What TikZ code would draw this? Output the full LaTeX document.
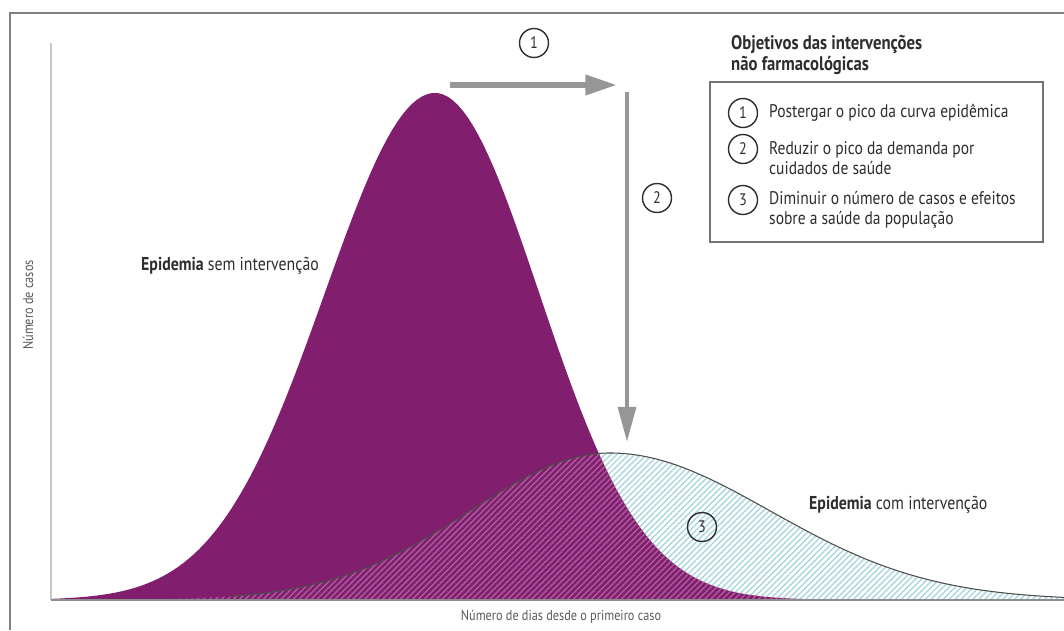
\documentclass[tikz,border=0pt]{standalone}
\usepackage{fontspec}
\setmainfont{PT Sans}[FakeStretch=0.85]
\usetikzlibrary{arrows.meta,patterns.meta}
\definecolor{epipurple}{RGB}{130,30,110}
\definecolor{hatchpurple}{RGB}{170,92,156}
\definecolor{hatchcyan}{RGB}{168,214,222}
\definecolor{arrowgray}{RGB}{150,150,150}
\definecolor{textgray}{RGB}{45,45,45}
\tikzset{
  declare function={
    semsig(\x)=ifthenelse(\x<435,110,104);
    semu(\x)=(\x-435)/semsig(\x);
    sem(\x)=600-507*exp(-0.5*semu(\x)*semu(\x));
    comsig(\x)=ifthenelse(\x<610,140,160);
    comu(\x)=(\x-610)/comsig(\x);
    com(\x)=600-147*exp(-0.5*comu(\x)*comu(\x));
  }
}

\begin{document}
\begin{tikzpicture}[x=0.02cm, y=-0.02cm,
    frameline/.style={draw=gray, line width=1.5pt},
    axisline/.style={draw=black!22, line width=1.3pt},
    hatch/.style={pattern={Lines[angle=45,distance=2.4pt,line width=0.8pt]}},
    numcircle/.style={circle, draw=textgray, line width=0.8pt, minimum size=0.58cm, inner sep=0pt, text=textgray, font=\fontsize{9.5}{10}\selectfont},
    bigarrow/.style={draw=arrowgray, line width=3.4pt, -{Triangle[length=18pt,width=11pt]}},
    downarrow/.style={draw=arrowgray, line width=2.6pt, -{Triangle[length=20pt,width=10pt]}},
    curvelabel/.style={anchor=west, text=textgray, font=\fontsize{10.6}{12}\selectfont},
    axislabel/.style={text=black!65, font=\fontsize{8.2}{9}\selectfont},
    itemtext/.style={anchor=west, align=left, text=textgray, font=\fontsize{10.4}{11.6}\selectfont}]
  \useasboundingbox (0,0) rectangle (1064,630);
  % frame:
  \draw[frameline] (10,630) -- (10,13) -- (1064,13);
  % epidemia com intervencao, hatched:
  \fill[hatch, pattern color=hatchcyan] (51,600) -- plot[domain=51:1064, samples=160] (\x,{com(\x)}) -- (1064,600) -- cycle;
  % epidemia sem intervencao:
  \fill[epipurple] (51,600) -- plot[domain=51:1064, samples=200] (\x,{sem(\x)}) -- (1064,600) -- cycle;
  \begin{scope}
    \clip (51,600) -- plot[domain=51:1064, samples=200] (\x,{sem(\x)}) -- (1064,600) -- cycle;
    \fill[hatch, pattern color=hatchpurple] (51,600) -- plot[domain=51:1064, samples=160] (\x,{com(\x)}) -- (1064,600) -- cycle;
  \end{scope}
  \draw[black!70, line width=0.6pt] plot[domain=230:1064, samples=160] (\x,{com(\x)});
  % axes:
  \draw[axisline] (51,43) -- (51,600);
  \draw[draw=black!45, line width=1pt] (51,600) -- (1064,600);
  \node[axislabel, rotate=90] (ylab) at (28,305) {Número de casos};
  \node[axislabel] (xlab) at (561,617) {Número de dias desde o primeiro caso};
  % curve labels:
  \node[curvelabel] (semlab) at (135,266) {\textbf{Epidemia} sem intervenção};
  \node[curvelabel] (comlab) at (803,505) {\textbf{Epidemia} com intervenção};
  % arrows 1 and 2:
  \coordinate (h1) at (450,85);
  \coordinate (h2) at (617,85);
  \coordinate (v1) at (627,92);
  \coordinate (v2) at (627,442);
  \draw[bigarrow] (h1) -- (h2);
  \draw[downarrow] (v1) -- (v2);
  \node[numcircle] (c1) at (534,43) {1};
  \node[numcircle] (c2) at (657,198) {2};
  \node[numcircle] (c3) at (702,527) {3};
  % legend:
  \node[anchor=west, align=left, text=textgray, font=\bfseries\fontsize{11.2}{9.8}\selectfont] (title) at (725,55) {Objetivos das intervenções\\não farmacológicas};
  \node[draw=black!55, line width=1pt, minimum width=6.66cm, minimum height=3.2cm] (legend) at (876.5,162) {};
  \node[numcircle] (l1) at (743,113) {1};
  \node[numcircle] (l2) at (743,149) {2};
  \node[numcircle] (l3) at (743,200) {3};
  \node[itemtext] (t1) at (763,113) {Postergar o pico da curva epidêmica};
  \node[itemtext] (t2) at (763,158) {Reduzir o pico da demanda por\\cuidados de saúde};
  \node[itemtext] (t3) at (763,210) {Diminuir o número de casos e efeitos\\sobre a saúde da população};
\end{tikzpicture}
\end{document}
